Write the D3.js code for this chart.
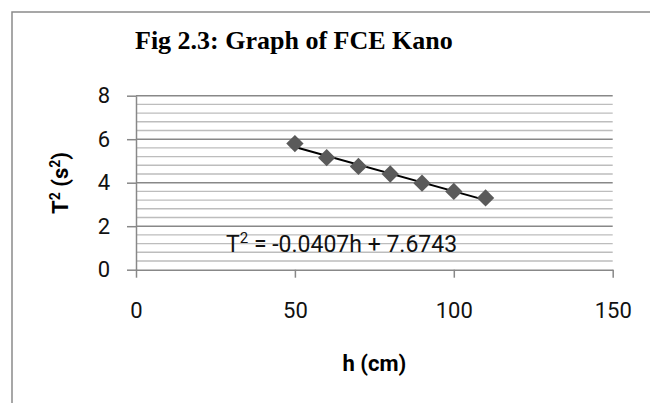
<!DOCTYPE html>
<html>
<head>
<meta charset="utf-8">
<script src="https://cdn.jsdelivr.net/npm/d3@7"></script>
<style>
    body { margin: 0; background: #fff; }
    svg { display: block; }
</style>
</head>
<body>
<div id="chart"></div>
<script>
// data
const heights = [50, 60, 70, 80, 90, 100, 110];
const periodSq = [5.80, 5.15, 4.75, 4.40, 3.98, 3.60, 3.30];
const xTicks = [0, 50, 100, 150];
const yTicks = [0, 2, 4, 6, 8];
const slope = -0.0407;
const intercept = 7.6743;

function createChart() {
    const width = 650;
    const height = 403;
    const margin = { left: 136, right: 37.3, top: 95.7, bottom: 133.3 };

    const svg = d3.select('#chart')
        .append('svg')
        .attr('width', width)
        .attr('height', height);

    // outer frame (cut off at right and bottom)
    svg.append('rect')
        .attr('x', 12).attr('y', 12)
        .attr('width', 700).attr('height', 500)
        .attr('fill', 'none')
        .attr('stroke', '#8a8a8a')
        .attr('stroke-width', 1.5);

    const xScale = d3.scaleLinear()
        .domain([0, 150])
        .range([margin.left, width - margin.right]);

    const yScale = d3.scaleLinear()
        .domain([0, 8])
        .range([height - margin.bottom, margin.top]);

    // gridlines: minor every 0.4, major every 2
    const minor = d3.range(0, 8.01, 0.4).filter(v => Math.abs(v / 2 - Math.round(v / 2)) > 0.01);
    svg.append('g')
        .selectAll('line')
        .data(minor)
        .join('line')
        .attr('x1', xScale(0)).attr('x2', xScale(150))
        .attr('y1', d => yScale(d)).attr('y2', d => yScale(d))
        .attr('stroke', '#bdbdbd')
        .attr('stroke-width', 1.4);

    svg.append('g')
        .selectAll('line')
        .data(yTicks.filter(d => d > 0))
        .join('line')
        .attr('x1', xScale(0)).attr('x2', xScale(150))
        .attr('y1', d => yScale(d)).attr('y2', d => yScale(d))
        .attr('stroke', '#888')
        .attr('stroke-width', 1.5);

    // axes
    const xAxis = d3.axisBottom(xScale).tickValues(xTicks).tickSize(8).tickSizeOuter(0).tickPadding(25);
    const yAxis = d3.axisLeft(yScale).tickValues(yTicks).tickSize(9).tickSizeOuter(0).tickPadding(17);

    const gx = svg.append('g')
        .attr('transform', `translate(0,${yScale(0)})`)
        .call(xAxis);
    const gy = svg.append('g')
        .attr('transform', `translate(${xScale(0)},0)`)
        .call(yAxis);

    [gx, gy].forEach(g => {
        g.selectAll('path, line').attr('stroke', '#888').attr('stroke-width', 1.5);
        g.selectAll('text')
            .attr('fill', '#111')
            .style('font-family', 'Roboto, sans-serif')
            .style('font-size', '22px');
    });

    // trendline
    const hExt = d3.extent(heights);
    svg.append('line')
        .attr('x1', xScale(hExt[0])).attr('y1', yScale(slope * hExt[0] + intercept))
        .attr('x2', xScale(hExt[1])).attr('y2', yScale(slope * hExt[1] + intercept))
        .attr('stroke', '#000')
        .attr('stroke-width', 2);

    // diamond markers
    const diamond = d3.symbol().type(d3.symbolSquare).size(150);
    svg.append('g')
        .selectAll('path')
        .data(heights)
        .join('path')
        .attr('d', diamond)
        .attr('transform', (d, i) => `translate(${xScale(d)},${yScale(periodSq[i])}) rotate(45)`)
        .attr('fill', '#5a5a5a');

    // equation label
    const eq = svg.append('text')
        .attr('x', 226).attr('y', 252)
        .attr('fill', '#111')
        .style('font-family', 'Roboto, sans-serif')
        .style('font-size', '23px');
    eq.append('tspan').text('T');
    eq.append('tspan').attr('dy', -9).style('font-size', '15px').text('2');
    eq.append('tspan').attr('dy', 9).text(` = ${slope}h + ${intercept}`);

    // title
    svg.append('text')
        .attr('x', 135).attr('y', 49)
        .attr('fill', '#000')
        .style('font-family', '"Liberation Serif", serif')
        .style('font-weight', 'bold')
        .style('font-size', '26px')
        .text('Fig 2.3: Graph of FCE Kano');

    // axis titles
    svg.append('text')
        .attr('x', (xScale(0) + xScale(150)) / 2).attr('y', 371)
        .attr('text-anchor', 'middle')
        .attr('fill', '#000')
        .style('font-family', 'Roboto, sans-serif')
        .style('font-weight', 'bold')
        .style('font-size', '22px')
        .text('h (cm)');

    const yl = svg.append('text')
        .attr('transform', 'translate(68,183) rotate(-90)')
        .attr('text-anchor', 'middle')
        .attr('fill', '#000')
        .style('font-family', 'Roboto, sans-serif')
        .style('font-weight', 'bold')
        .style('font-size', '22px');
    yl.append('tspan').text('T');
    yl.append('tspan').attr('dy', -8).style('font-size', '14px').text('2');
    yl.append('tspan').attr('dy', 8).text(' (s');
    yl.append('tspan').attr('dy', -8).style('font-size', '14px').text('2');
    yl.append('tspan').attr('dy', 8).text(')');
}

document.addEventListener('DOMContentLoaded', createChart);
</script>
</body>
</html>
